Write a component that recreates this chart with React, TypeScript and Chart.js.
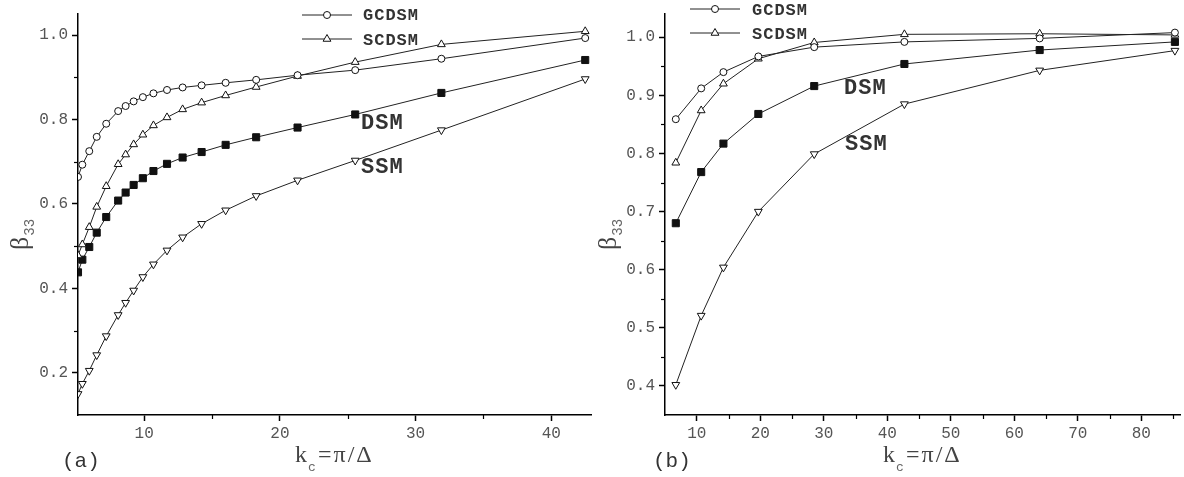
import React, { useEffect, useRef } from "react";
import { Chart, registerables } from "chart.js";

Chart.register(...registerables);

// ---------- Panel (a) data ----------
const xA = [5.12, 5.44, 5.95, 6.5, 7.2, 8.08, 8.63, 9.22, 9.9, 10.68, 11.68, 12.83, 14.23, 16.0, 18.25, 21.3, 25.55, 31.9, 42.5];
const gcdsmA = [0.664, 0.693, 0.725, 0.759, 0.79, 0.82, 0.832, 0.843, 0.853, 0.862, 0.87, 0.876, 0.881, 0.887, 0.894, 0.905, 0.917, 0.944, 0.993];
const scdsmA = [0.478, 0.504, 0.545, 0.593, 0.642, 0.694, 0.717, 0.741, 0.764, 0.786, 0.805, 0.824, 0.84, 0.857, 0.877, 0.903, 0.936, 0.978, 1.009];
const dsmA = [0.438, 0.468, 0.498, 0.532, 0.569, 0.608, 0.627, 0.645, 0.661, 0.678, 0.695, 0.71, 0.723, 0.74, 0.758, 0.781, 0.812, 0.863, 0.941];
const ssmA = [0.15, 0.174, 0.205, 0.242, 0.287, 0.337, 0.366, 0.395, 0.427, 0.457, 0.49, 0.521, 0.553, 0.585, 0.619, 0.656, 0.703, 0.775, 0.896];

const xTicksA = [10, 15, 20, 25, 30, 35, 40];
const xMajorA = [10, 20, 30, 40];
const yTicksA = [0.2, 0.3, 0.4, 0.5, 0.6, 0.7, 0.8, 0.9, 1.0];
const yMajorA = [0.2, 0.4, 0.6, 0.8, 1.0];

// ---------- Panel (b) data ----------
const xB = [6.7, 10.7, 14.2, 19.7, 28.5, 42.7, 64.0, 85.3];
const gcdsmB = [0.859, 0.912, 0.94, 0.967, 0.983, 0.992, 0.998, 1.008];
const scdsmB = [0.784, 0.874, 0.92, 0.963, 0.991, 1.005, 1.006, 1.004];
const dsmB = [0.68, 0.768, 0.817, 0.868, 0.916, 0.954, 0.978, 0.992];
const ssmB = [0.402, 0.521, 0.604, 0.7, 0.799, 0.885, 0.943, 0.977];

const xTicksB = [10, 15, 20, 25, 30, 35, 40, 45, 50, 55, 60, 65, 70, 75, 80, 85];
const xMajorB = [10, 20, 30, 40, 50, 60, 70, 80];
const yTicksB = [0.4, 0.45, 0.5, 0.55, 0.6, 0.65, 0.7, 0.75, 0.8, 0.85, 0.9, 0.95, 1.0];
const yMajorB = [0.4, 0.5, 0.6, 0.7, 0.8, 0.9, 1.0];

const seriesNames = ["GCDSM", "SCDSM", "DSM", "SSM"];

const MONO = '"Liberation Mono", "DejaVu Sans Mono", monospace';
const SERIF = '"Liberation Serif", "DejaVu Serif", serif';

const has = (arr: number[], v: number) => arr.some((a) => Math.abs(a - v) < 1e-9);

type PanelCfg = {
  xs: number[];
  series: number[][];
  xMin: number; xMax: number; yMin: number; yMax: number;
  xTicks: number[]; xMajor: number[]; yTicks: number[]; yMajor: number[];
  yAxisWidth: number; padRight: number;
  letter: string; letterX: number;
  betaX: number;
  titleX: number;
  legendLineX: number; legendTextX: number; legendY: number[]; legendTextY: number[];
  dsmPos: [number, number]; ssmPos: [number, number];
};

function drawMarker(ctx: CanvasRenderingContext2D, style: string, x: number, y: number) {
  ctx.save();
  ctx.lineWidth = 1;
  ctx.strokeStyle = "#111";
  ctx.fillStyle = "#fff";
  ctx.beginPath();
  if (style === "circle") {
    ctx.arc(x, y, 3.5, 0, Math.PI * 2);
  } else if (style === "triangle") {
    const r = 4.5;
    for (let k = 0; k < 3; k++) {
      const a = (k * 2 * Math.PI) / 3;
      const px = x + Math.sin(a) * r;
      const py = y - Math.cos(a) * r;
      if (k === 0) ctx.moveTo(px, py); else ctx.lineTo(px, py);
    }
    ctx.closePath();
  }
  ctx.fill();
  ctx.stroke();
  ctx.restore();
}

function makePlugin(cfg: PanelCfg) {
  return {
    id: "panelDecor",
    afterDraw(chart: any) {
      const ctx: CanvasRenderingContext2D = chart.ctx;
      const xs = chart.scales.x;
      const ys = chart.scales.y;
      const area = chart.chartArea;
      ctx.save();
      // minor ticks
      ctx.strokeStyle = "#000";
      ctx.lineWidth = 1.2;
      cfg.xTicks.forEach((v) => {
        if (has(cfg.xMajor, v)) return;
        const px = Math.round(xs.getPixelForValue(v)) + 0.5;
        ctx.beginPath();
        ctx.moveTo(px, area.bottom);
        ctx.lineTo(px, area.bottom + 4);
        ctx.stroke();
      });
      cfg.yTicks.forEach((v) => {
        if (has(cfg.yMajor, v)) return;
        const py = Math.round(ys.getPixelForValue(v)) + 0.5;
        ctx.beginPath();
        ctx.moveTo(area.left - 4, py);
        ctx.lineTo(area.left, py);
        ctx.stroke();
      });

      // legend
      const legendStyles = ["circle", "triangle"];
      for (let i = 0; i < 2; i++) {
        const y = cfg.legendY[i];
        ctx.strokeStyle = "#222";
        ctx.lineWidth = 1;
        ctx.beginPath();
        ctx.moveTo(cfg.legendLineX, y);
        ctx.lineTo(cfg.legendLineX + 50, y);
        ctx.stroke();
        drawMarker(ctx, legendStyles[i], cfg.legendLineX + 25, y);
        ctx.fillStyle = "#333";
        ctx.font = `bold 17px ${MONO}`;
        (ctx as any).letterSpacing = "1px";
        ctx.textAlign = "left";
        ctx.textBaseline = "alphabetic";
        ctx.fillText(seriesNames[i], cfg.legendTextX, cfg.legendTextY[i]);
      }

      // in-plot labels
      ctx.font = `bold 22px ${MONO}`;
      (ctx as any).letterSpacing = "1px";
      ctx.fillStyle = "#333";
      ctx.fillText(seriesNames[2], cfg.dsmPos[0], cfg.dsmPos[1]);
      ctx.fillText(seriesNames[3], cfg.ssmPos[0], cfg.ssmPos[1]);

      // panel letter
      (ctx as any).letterSpacing = "0px";
      ctx.font = `21px ${MONO}`;
      ctx.fillStyle = "#333";
      ctx.fillText(cfg.letter, cfg.letterX, 467);

      // x-axis title: k_c = π/Δ
      ctx.fillStyle = "#444";
      ctx.font = `24px ${SERIF}`;
      ctx.fillText("k", cfg.titleX, 462);
      ctx.font = `13px ${MONO}`;
      ctx.fillStyle = "#666";
      ctx.fillText("c", cfg.titleX + 13, 471);
      ctx.font = `24px ${SERIF}`;
      ctx.fillStyle = "#444";
      (ctx as any).letterSpacing = "2px";
      ctx.fillText("=π/Δ", cfg.titleX + 23, 462);
      (ctx as any).letterSpacing = "0px";

      // y-axis title: β_33 (rotated)
      ctx.save();
      ctx.translate(cfg.betaX, 250);
      ctx.rotate(-Math.PI / 2);
      ctx.font = `26px ${SERIF}`;
      ctx.fillStyle = "#444";
      ctx.fillText("β", 0, 0);
      const bw = ctx.measureText("β").width;
      ctx.font = `14px ${MONO}`;
      ctx.fillStyle = "#666";
      ctx.fillText("33", bw + 1, 6);
      ctx.restore();

      ctx.restore();
    },
  };
}

function buildConfig(cfg: PanelCfg): any {
  const styles = [
    { pointStyle: "circle", radius: 3.5, bg: "#fff", rot: 0 },
    { pointStyle: "triangle", radius: 4.5, bg: "#fff", rot: 0 },
    { pointStyle: "rect", radius: 5, bg: "#111", rot: 0 },
    { pointStyle: "triangle", radius: 4.5, bg: "#fff", rot: 180 },
  ];
  return {
    type: "line",
    data: {
      datasets: cfg.series.map((ys, si) => ({
        label: seriesNames[si],
        data: cfg.xs.map((x, i) => ({ x, y: ys[i] })),
        borderColor: "#222",
        borderWidth: 1,
        pointStyle: styles[si].pointStyle,
        pointRadius: styles[si].radius,
        pointRotation: styles[si].rot,
        pointBackgroundColor: styles[si].bg,
        pointBorderColor: "#111",
        pointBorderWidth: 1,
        tension: 0,
        fill: false,
      })),
    },
    options: {
      responsive: false,
      animation: false,
      events: [],
      layout: { autoPadding: false, padding: { top: 14, right: cfg.padRight, left: 0, bottom: 0 } },
      plugins: { legend: { display: false }, tooltip: { enabled: false } },
      scales: {
        x: {
          type: "linear",
          min: cfg.xMin,
          max: cfg.xMax,
          afterBuildTicks: (s: any) => { s.ticks = cfg.xTicks.map((v) => ({ value: v })); },
          afterFit: (s: any) => { s.height = 62; s.paddingLeft = 0; s.paddingRight = 0; },
          ticks: {
            autoSkip: false,
            maxRotation: 0,
            padding: 3,
            color: "#555",
            font: { family: MONO, size: 16 },
            callback: (v: number) => (has(cfg.xMajor, v) ? String(Math.round(v)) : ""),
          },
          grid: {
            drawOnChartArea: false,
            tickLength: 6,
            tickWidth: 1.5,
            tickColor: (c: any) => (c.tick && has(cfg.xMajor, c.tick.value) ? "#000" : "rgba(0,0,0,0)"),
          },
          border: { color: "#000", width: 1.5 },
        },
        y: {
          type: "linear",
          min: cfg.yMin,
          max: cfg.yMax,
          afterBuildTicks: (s: any) => { s.ticks = cfg.yTicks.map((v) => ({ value: v })); },
          afterFit: (s: any) => { s.width = cfg.yAxisWidth; s.paddingTop = 0; s.paddingBottom = 0; },
          ticks: {
            autoSkip: false,
            padding: 4,
            color: "#555",
            font: { family: MONO, size: 16 },
            callback: (v: number) => (has(cfg.yMajor, v) ? v.toFixed(1) : ""),
          },
          grid: {
            drawOnChartArea: false,
            tickLength: 6,
            tickWidth: 1.5,
            tickColor: (c: any) => (c.tick && has(cfg.yMajor, c.tick.value) ? "#000" : "rgba(0,0,0,0)"),
          },
          border: { color: "#000", width: 1.5 },
        },
      },
    },
    plugins: [makePlugin(cfg)],
  };
}

const panelA: PanelCfg = {
  xs: xA,
  series: [gcdsmA, scdsmA, dsmA, ssmA],
  xMin: 5.12, xMax: 43, yMin: 0.1, yMax: 1.05,
  xTicks: xTicksA, xMajor: xMajorA, yTicks: yTicksA, yMajor: yMajorA,
  yAxisWidth: 78, padRight: 0,
  letter: "(a)", letterX: 62,
  betaX: 28,
  titleX: 295,
  legendLineX: 302, legendTextX: 363, legendY: [15, 39], legendTextY: [20, 45],
  dsmPos: [361, 129], ssmPos: [361, 173],
};

const panelB: PanelCfg = {
  xs: xB,
  series: [gcdsmB, scdsmB, dsmB, ssmB],
  xMin: 5.0, xMax: 86.1, yMin: 0.35, yMax: 1.04,
  xTicks: xTicksB, xMajor: xMajorB, yTicks: yTicksB, yMajor: yMajorB,
  yAxisWidth: 73, padRight: 4,
  letter: "(b)", letterX: 61,
  betaX: 24,
  titleX: 291,
  legendLineX: 98, legendTextX: 160, legendY: [9, 33], legendTextY: [15, 39],
  dsmPos: [252, 94], ssmPos: [253, 150],
};

function Panel({ cfg, left }: { cfg: PanelCfg; left: number }) {
  const ref = useRef<HTMLCanvasElement>(null);
  useEffect(() => {
    if (!ref.current) return;
    const chart = new Chart(ref.current, buildConfig(cfg));
    return () => chart.destroy();
  }, []);
  return (
    <canvas
      ref={ref}
      width={592}
      height={477}
      style={{ position: "absolute", left, top: 0, width: 592, height: 477, display: "block" }}
    />
  );
}

export default function App() {
  return (
    <div style={{ position: "fixed", left: 0, top: 0, width: 1184, height: 477, background: "#fff", overflow: "hidden" }}>
      <Panel cfg={panelA} left={0} />
      <Panel cfg={panelB} left={592} />
    </div>
  );
}
